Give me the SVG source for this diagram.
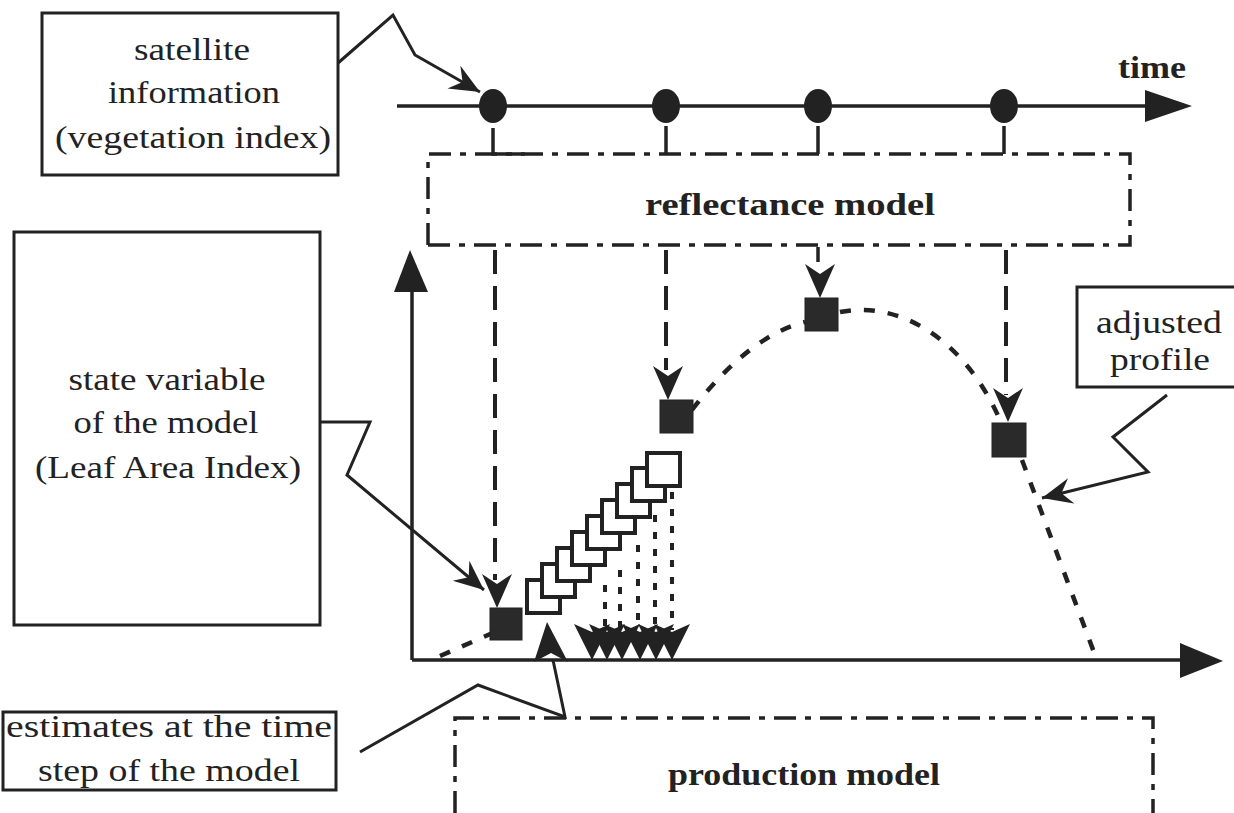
<svg xmlns="http://www.w3.org/2000/svg" width="1234" height="813" viewBox="0 0 1234 813">
<style>
.box{fill:#fff;stroke:#222;stroke-width:3}
.t{font-family:"Liberation Serif",serif;font-size:31px;fill:#222;text-anchor:middle}
.b{font-family:"Liberation Serif",serif;font-size:31px;font-weight:bold;fill:#222;text-anchor:middle}
.call{fill:none;stroke:#222;stroke-width:3;stroke-linejoin:miter}
.dd{fill:none;stroke:#222;stroke-width:3.5;stroke-dasharray:22 9 6 9}
.vd{fill:none;stroke:#222;stroke-width:4;stroke-dasharray:24 12}
.cd{fill:none;stroke:#222;stroke-width:4.5;stroke-dasharray:11 13}
.dot{fill:none;stroke:#222;stroke-width:4;stroke-dasharray:7 10}
.ax{fill:none;stroke:#222;stroke-width:3.5}
.hd{fill:#222}
.sq{fill:#2a2a2a;stroke:#222;stroke-width:1}
.osq{fill:#fff;stroke:#222;stroke-width:4}
</style>
<defs>
<marker id="barb" markerUnits="userSpaceOnUse" viewBox="-30 -14 31 28" refX="0" refY="0" markerWidth="31" markerHeight="28" orient="auto">
<path d="M0,0 L-30,-13 L-20,0 L-30,13 Z" fill="#222"/>
</marker>
<path id="dh" d="M0,0 L-15,-34 L0,-24 L15,-34 Z" fill="#222"/>
<path id="bh" d="M0,0 L-18,-36 L0,-28 L18,-36 Z" fill="#222"/>
</defs>
<rect width="1234" height="813" fill="#fff"/>

<g id="satellite">
<rect class="box" x="42" y="13" width="296" height="162"/>
<text class="t" x="192" y="60" textLength="116" lengthAdjust="spacingAndGlyphs">satellite</text>
<text class="t" x="194" y="103" textLength="172" lengthAdjust="spacingAndGlyphs">information</text>
<text class="t" x="193" y="148" textLength="276" lengthAdjust="spacingAndGlyphs">(vegetation index)</text>
</g>

<g id="state">
<rect class="box" x="14" y="232" width="306" height="393"/>
<text class="t" x="167" y="390" textLength="197" lengthAdjust="spacingAndGlyphs">state variable</text>
<text class="t" x="166" y="433" textLength="185" lengthAdjust="spacingAndGlyphs">of the model</text>
<text class="t" x="168" y="478" textLength="266" lengthAdjust="spacingAndGlyphs">(Leaf Area Index)</text>
</g>

<g id="adjusted">
<polyline class="box" points="1234,287 1077,287 1077,387 1234,387"/>
<text class="t" x="1159" y="333" textLength="126" lengthAdjust="spacingAndGlyphs">adjusted</text>
<text class="t" x="1160" y="370" textLength="100" lengthAdjust="spacingAndGlyphs">profile</text>
</g>

<g id="estimates">
<rect class="box" x="3" y="712" width="333" height="78"/>
<text class="t" x="169" y="737" textLength="326" lengthAdjust="spacingAndGlyphs">estimates at the time</text>
<text class="t" x="169" y="781" textLength="262" lengthAdjust="spacingAndGlyphs">step of the model</text>
</g>

<g id="time-label">
<text class="b" x="1152" y="78" font-size="27" textLength="68" lengthAdjust="spacingAndGlyphs">time</text>
</g>

<g id="reflectance">
<polyline class="dd" points="428,245 428,154 1130,154 1130,245 428,245"/>
<text class="b" x="790" y="215" textLength="290" lengthAdjust="spacingAndGlyphs">reflectance model</text>
</g>

<g id="production">
<polyline class="dd" points="455,813 455,718 1153,718 1153,813"/>
<text class="b" x="804" y="785" textLength="272" lengthAdjust="spacingAndGlyphs">production model</text>
</g>

<g id="timeaxis">
<line class="ax" x1="397" y1="106" x2="1150" y2="106"/>
<polygon class="hd" points="1145,90 1192,106 1145,122"/>
<ellipse class="hd" cx="493" cy="106" rx="14" ry="17"/>
<ellipse class="hd" cx="666" cy="106" rx="14" ry="17"/>
<ellipse class="hd" cx="818" cy="106" rx="14" ry="17"/>
<ellipse class="hd" cx="1004" cy="106" rx="14" ry="17"/>
<polyline class="ax" points="493,128 493,154 525,154"/>
<line class="ax" x1="666" y1="126" x2="666" y2="154"/>
<line class="ax" x1="818" y1="126" x2="818" y2="154"/>
<line class="ax" x1="1004" y1="126" x2="1004" y2="154"/>
</g>

<g id="axes">
<line class="ax" x1="412" y1="660" x2="412" y2="285"/>
<polygon class="hd" points="394,292 410,250 428,292"/>
<line class="ax" x1="412" y1="660" x2="1185" y2="660"/>
<polygon class="hd" points="1180,643 1223,661 1180,678"/>
</g>

<g id="connectors">
<polyline class="call" points="338,63 393,15 415,55 480,92" marker-end="url(#barb)"/>
<polyline class="call" points="320,422 370,422 347,475 484,590" marker-end="url(#barb)"/>
<polyline class="call" points="1167,395 1113,437 1148,472 1042,498" marker-end="url(#barb)"/>
<polyline class="call" points="360,752 478,685 565,717 553,660"/>
<polygon class="hd" points="547,622 534,662 551,653 568,662"/>
<line class="vd" x1="495" y1="250" x2="495" y2="580"/>
<use href="#dh" x="497" y="608"/>
<line class="vd" x1="666" y1="250" x2="666" y2="370"/>
<use href="#dh" x="668" y="400"/>
<line class="ax" x1="818" y1="247" x2="818" y2="262"/>
<use href="#dh" x="820" y="298"/>
<line class="vd" x1="1006" y1="250" x2="1006" y2="395"/>
<use href="#dh" x="1008" y="422"/>
</g>

<g id="curve">
<path class="cd" d="M440,656 L495,632"/>
<path class="cd" d="M692,410 C730,360 770,330 805,322"/>
<path class="cd" d="M840,312 C900,300 965,340 1000,420"/>
<path class="cd" d="M1022,460 L1095,655"/>
</g>

<g id="steps">
<line class="dot" x1="605" y1="585" x2="605" y2="630"/>
<line class="dot" x1="620" y1="570" x2="620" y2="630"/>
<line class="dot" x1="638" y1="545" x2="638" y2="630"/>
<line class="dot" x1="655" y1="515" x2="655" y2="630"/>
<line class="dot" x1="672" y1="492" x2="672" y2="630"/>
<rect class="osq" x="527" y="580" width="33" height="33"/>
<rect class="osq" x="542" y="564" width="33" height="33"/>
<rect class="osq" x="557" y="548" width="33" height="33"/>
<rect class="osq" x="572" y="532" width="33" height="33"/>
<rect class="osq" x="587" y="516" width="33" height="33"/>
<rect class="osq" x="602" y="500" width="33" height="33"/>
<rect class="osq" x="617" y="484" width="33" height="33"/>
<rect class="osq" x="632" y="468" width="33" height="33"/>
<rect class="osq" x="647" y="453" width="33" height="33"/>
<use href="#bh" x="592" y="660"/>
<use href="#bh" x="607" y="660"/>
<use href="#bh" x="622" y="660"/>
<use href="#bh" x="640" y="660"/>
<use href="#bh" x="656" y="660"/>
<use href="#bh" x="672" y="660"/>
</g>

<g id="points">
<rect class="sq" x="490" y="608" width="32" height="32"/>
<rect class="sq" x="660" y="400" width="33" height="33"/>
<rect class="sq" x="805" y="298" width="33" height="33"/>
<rect class="sq" x="992" y="423" width="34" height="34"/>
</g>
</svg>
